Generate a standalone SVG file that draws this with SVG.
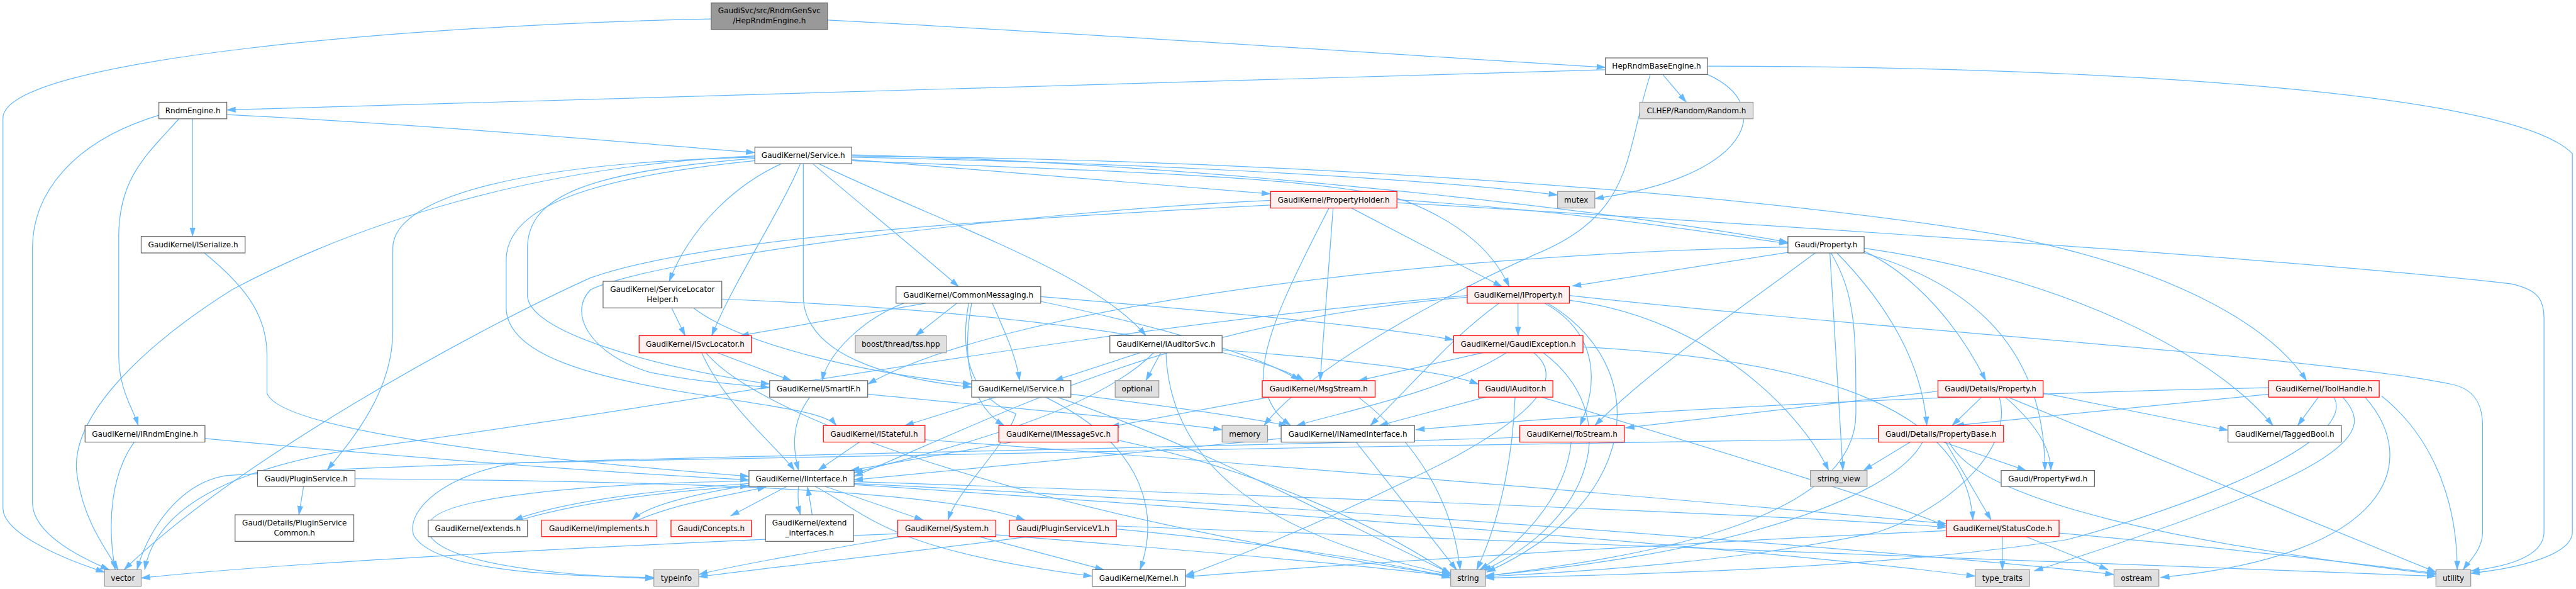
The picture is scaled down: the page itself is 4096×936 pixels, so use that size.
<svg xmlns="http://www.w3.org/2000/svg" width="4096" height="936" viewBox="0 0 4096 936">
<defs>
<marker id="a" markerWidth="16" markerHeight="10" refX="15" refY="5" orient="auto" markerUnits="userSpaceOnUse"><path d="M0,0 L16,5 L0,10 z" fill="#63b8ff"/></marker>
<style>
.e{fill:none;stroke:#63b8ff;stroke-width:1.3;marker-end:url(#a)}
.n rect{fill:#ffffff;stroke:#666666;stroke-width:1.3}
.r rect{fill:#fff0f0;stroke:#ff0000;stroke-width:1.3}
.g rect{fill:#e0e0e0;stroke:#999999;stroke-width:1.3}
.root rect{fill:#999999;stroke:#666666;stroke-width:1.3}
text{font-family:"DejaVu Sans","Liberation Sans",sans-serif;font-size:12.8px;fill:#000000;text-anchor:middle}
</style>
</defs>
<rect width="4096" height="936" fill="#ffffff"/>
<g transform="scale(0.9392)">
<g id="edges">
<path class="e" d="M1401,34 C1900,60 2400,95 2718,114"/>
<path class="e" d="M1204,32 C700,42 5,100 5,200 L5,860 C5,905 120,950 177,968"/>
<path class="e" d="M2718,118 L384,186"/>
<path class="e" d="M2815,126 L2855,173"/>
<path class="e" d="M2891,126 C3010,180 2960,300 2700,336"/>
<path class="e" d="M2891,112 C3500,112 4250,150 4355,260 L4355,900 C4355,940 4260,962 4183,970"/>
<path class="e" d="M2794,126 C2750,260 2770,360 2600,430 C2400,520 2200,640 2140,720"/>
<path class="e" d="M384,194 C800,215 1100,245 1278,258"/>
<path class="e" d="M269,195 C120,240 55,330 55,420 L55,850 C55,905 140,945 185,964"/>
<path class="e" d="M303,201 C250,260 201,300 201,400 L201,600 C201,660 225,690 234,720"/>
<path class="e" d="M326,201 L326,400"/>
<path class="e" d="M346,428 C410,480 452,530 452,600 L452,665 C470,720 800,770 1268,806"/>
<path class="e" d="M347,742 C700,775 1000,798 1268,812"/>
<path class="e" d="M227,748 C190,800 180,880 195,964"/>
<path class="e" d="M1442,262 C2000,275 2700,350 3027,410"/>
<path class="e" d="M1376,277 C1450,340 1560,430 1623,485"/>
<path class="e" d="M1386,277 C1600,380 1850,460 1940,568"/>
<path class="e" d="M1442,272 C1900,290 2250,300 2380,340 C2480,380 2530,430 2555,485"/>
<path class="e" d="M1360,277 L1360,505 C1365,600 1500,640 1645,655"/>
<path class="e" d="M1278,272 C1000,300 857,350 857,440 L857,520 C857,600 1000,640 1200,670 C1330,690 1400,700 1416,720"/>
<path class="e" d="M1355,277 C1320,360 1240,480 1205,568"/>
<path class="e" d="M1323,277 C1250,310 1170,380 1133,476"/>
<path class="e" d="M1442,270 L2151,328"/>
<path class="e" d="M1442,264 C2200,270 3000,330 3400,400 C3700,460 3850,560 3905,644"/>
<path class="e" d="M1442,266 C1900,275 2400,300 2637,330"/>
<path class="e" d="M1278,266 C900,275 665,330 665,420 L665,560 C665,660 600,740 554,795"/>
<path class="e" d="M1278,264 C900,280 600,380 393,490 C250,580 119,700 130,800 C140,880 180,930 200,964"/>
<path class="e" d="M1278,268 C1000,290 893,330 893,420 L893,500 C893,560 1100,620 1303,650"/>
<path class="e" d="M2365,338 C2700,360 2900,395 3027,412"/>
<path class="e" d="M2288,352 L2543,485"/>
<path class="e" d="M2257,352 L2235,644"/>
<path class="e" d="M2151,347 C1700,370 1200,400 1000,470 C800,560 400,780 210,964"/>
<path class="e" d="M2250,352 C2200,450 2130,580 2140,650 C2150,690 2165,705 2185,720"/>
<path class="e" d="M2365,343 C3000,380 3900,440 4250,480 C4300,490 4307,510 4307,540 L4307,900 C4307,940 4250,958 4183,966"/>
<path class="e" d="M2151,339 C1700,360 1100,440 1000,490 C960,530 1000,600 1100,630 C1200,650 1260,650 1303,656"/>
<path class="e" d="M3027,427 L2662,484"/>
<path class="e" d="M3156,425 C3250,470 3320,560 3362,644"/>
<path class="e" d="M3156,428 C3300,470 3462,560 3462,796"/>
<path class="e" d="M3110,428 C3200,520 3255,620 3262,720"/>
<path class="e" d="M3156,420 C3500,470 3750,600 3848,720"/>
<path class="e" d="M3073,428 C2950,520 2800,620 2700,720"/>
<path class="e" d="M3098,428 L3120,796"/>
<path class="e" d="M3100,428 C3142,500 3142,560 3142,700 C3142,900 2700,950 2515,975"/>
<path class="e" d="M3027,418 C2400,430 1700,520 1469,650"/>
<path class="e" d="M1137,521 L1160,568"/>
<path class="e" d="M1222,506 C1700,525 2100,580 2208,644"/>
<path class="e" d="M1174,521 C1250,580 1450,630 1645,650"/>
<path class="e" d="M1567,513 L1253,568"/>
<path class="e" d="M1620,513 L1550,568"/>
<path class="e" d="M1530,513 C1460,540 1400,600 1392,644"/>
<path class="e" d="M1680,513 C1700,560 1720,600 1726,644"/>
<path class="e" d="M1645,513 C1625,620 1650,690 1700,720"/>
<path class="e" d="M1640,513 C1620,620 1660,680 1720,700 C1700,760 1620,830 1605,880"/>
<path class="e" d="M1762,502 C2100,530 2350,555 2461,575"/>
<path class="e" d="M1762,510 C2000,560 2150,610 2200,644"/>
<path class="e" d="M2570,513 L2570,568"/>
<path class="e" d="M2538,513 C2460,570 2420,620 2320,720"/>
<path class="e" d="M2615,513 C2700,560 2710,640 2675,720"/>
<path class="e" d="M2620,513 C2800,620 2780,850 2517,968"/>
<path class="e" d="M2657,508 C2900,540 3050,700 3096,796"/>
<path class="e" d="M2657,500 C3200,560 3900,600 4150,650 C4200,660 4203,700 4203,720 L4203,900 C4203,930 4180,950 4170,964"/>
<path class="e" d="M2484,503 C2000,540 1700,700 1446,806"/>
<path class="e" d="M2484,500 C1800,560 1200,680 600,760 C350,800 260,880 245,964"/>
<path class="e" d="M1188,597 C1230,690 1320,760 1345,796"/>
<path class="e" d="M1215,597 L1340,644"/>
<path class="e" d="M1195,597 C1300,720 1800,880 2456,974"/>
<path class="e" d="M1930,597 L1785,644"/>
<path class="e" d="M1965,597 L1940,644"/>
<path class="e" d="M2069,592 C2300,610 2450,630 2503,650"/>
<path class="e" d="M1974,597 C1980,760 2100,900 2456,972"/>
<path class="e" d="M1953,597 C1850,700 1600,760 1446,800"/>
<path class="e" d="M2510,597 L2300,644"/>
<path class="e" d="M2550,597 C2450,660 2300,690 2195,720"/>
<path class="e" d="M2597,597 C2650,640 2600,700 2450,780 C2250,880 2100,940 2007,974"/>
<path class="e" d="M2613,597 C2750,700 2700,880 2510,966"/>
<path class="e" d="M2680,587 C3100,610 3330,700 3340,880"/>
<path class="e" d="M1371,672 C1335,720 1345,770 1352,796"/>
<path class="e" d="M1469,667 C1700,690 1900,705 2069,727"/>
<path class="e" d="M1686,672 L1532,720"/>
<path class="e" d="M1813,667 C2000,690 2100,705 2180,720"/>
<path class="e" d="M1770,672 C1950,760 1960,880 1930,964"/>
<path class="e" d="M1790,672 C2050,760 2300,900 2456,970"/>
<path class="e" d="M2149,672 L1880,722"/>
<path class="e" d="M2300,672 C2400,750 2460,850 2472,964"/>
<path class="e" d="M2515,672 L2335,720"/>
<path class="e" d="M2565,672 C2560,800 2530,900 2500,964"/>
<path class="e" d="M2610,672 C2900,760 3200,850 3295,890"/>
<path class="e" d="M3355,672 L3305,720"/>
<path class="e" d="M3395,672 C3450,720 3472,760 3472,796"/>
<path class="e" d="M3459,665 L3772,728"/>
<path class="e" d="M3402,673 L4124,968"/>
<path class="e" d="M3281,662 L2752,724"/>
<path class="e" d="M3385,672 C3410,760 3300,860 3180,900 C2900,960 2600,970 2515,976"/>
<path class="e" d="M3925,672 L3890,720"/>
<path class="e" d="M3841,656 C3200,670 2700,700 2397,727"/>
<path class="e" d="M3841,667 L3310,720"/>
<path class="e" d="M3952,673 C3990,750 3700,860 3500,913 C3200,960 2800,972 2515,978"/>
<path class="e" d="M3966,672 C4020,730 4000,790 3444,966"/>
<path class="e" d="M4004,672 C4100,780 4050,940 3658,977"/>
<path class="e" d="M4032,670 C4120,740 4160,850 4160,964"/>
<path class="e" d="M1455,748 L1385,796"/>
<path class="e" d="M1566,744 C2200,790 2900,850 3295,886"/>
<path class="e" d="M1714,748 L1440,796"/>
<path class="e" d="M1893,745 C2150,800 2350,900 2456,972"/>
<path class="e" d="M2169,742 C1900,770 1650,790 1446,812"/>
<path class="e" d="M2296,748 L2466,964"/>
<path class="e" d="M2660,748 C2650,850 2560,930 2505,964"/>
<path class="e" d="M2573,740 C2000,760 800,775 380,805 C300,820 250,900 232,964"/>
<path class="e" d="M3290,748 L3430,796"/>
<path class="e" d="M3294,748 L3371,880"/>
<path class="e" d="M3234,748 L3155,796"/>
<path class="e" d="M3255,748 C3200,850 2900,940 2515,974"/>
<path class="e" d="M3300,748 C3350,850 3700,920 4124,972"/>
<path class="e" d="M3180,742 C2500,755 1200,770 877,783 C760,800 687,860 700,905 C730,960 900,975 1107,977"/>
<path class="e" d="M514,823 L506,871"/>
<path class="e" d="M601,810 C1200,815 1600,830 1735,880"/>
<path class="e" d="M1332,823 L1237,873"/>
<path class="e" d="M1352,823 C1350,840 1352,860 1355,871"/>
<path class="e" d="M1268,818 C1100,830 950,850 870,880"/>
<path class="e" d="M1268,821 C1150,840 1090,860 1070,880"/>
<path class="e" d="M1397,823 L1563,880"/>
<path class="e" d="M1380,823 C1470,870 1500,930 1849,975"/>
<path class="e" d="M1446,815 C2200,840 3000,870 3295,892"/>
<path class="e" d="M1446,818 C2300,860 3300,940 3579,972"/>
<path class="e" d="M1446,820 C2200,870 3000,930 3344,975"/>
<path class="e" d="M1268,814 C1000,818 760,840 730,880 C700,925 800,968 1107,979"/>
<path class="e" d="M880,880 C1000,845 1150,830 1268,822"/>
<path class="e" d="M1080,880 C1150,850 1250,835 1297,824"/>
<path class="e" d="M1375,871 C1372,850 1370,840 1367,824"/>
<path class="e" d="M1658,908 L1869,964"/>
<path class="e" d="M1525,908 C1400,930 1250,955 1183,972"/>
<path class="e" d="M1520,903 C1100,920 500,950 239,978"/>
<path class="e" d="M1686,905 C2000,930 2300,955 2456,975"/>
<path class="e" d="M1740,908 C1500,940 1300,960 1183,976"/>
<path class="e" d="M1890,895 C2150,920 2350,950 2456,978"/>
<path class="e" d="M1890,890 C2800,920 3600,950 4124,975"/>
<path class="e" d="M3295,898 C2800,920 2200,960 2007,976"/>
<path class="e" d="M3390,908 L3390,964"/>
<path class="e" d="M3430,908 L3569,964"/>
<path class="e" d="M3486,902 C3800,930 4000,955 4124,970"/>
</g>
<g id="n_root" class="root"><rect x="1204" y="5" width="197" height="45"/><text x="1302.5" y="22.5">GaudiSvc/src/RndmGenSvc</text><text x="1302.5" y="39.5">/HepRndmEngine.h</text></g>
<g id="n_hepbase" class="n"><rect x="2718" y="98" width="173" height="28"/><text x="2804.5" y="116.5">HepRndmBaseEngine.h</text></g>
<g id="n_rndmengine" class="n"><rect x="269" y="173" width="115" height="28"/><text x="326.5" y="191.5">RndmEngine.h</text></g>
<g id="n_clhep" class="g"><rect x="2776" y="173" width="192" height="28"/><text x="2872" y="191.5">CLHEP/Random/Random.h</text></g>
<g id="n_service" class="n"><rect x="1278" y="249" width="164" height="28"/><text x="1360" y="267.5">GaudiKernel/Service.h</text></g>
<g id="n_mutex" class="g"><rect x="2637" y="324" width="63" height="28"/><text x="2668.5" y="342.5">mutex</text></g>
<g id="n_propholder" class="r"><rect x="2151" y="324" width="214" height="28"/><text x="2258" y="342.5">GaudiKernel/PropertyHolder.h</text></g>
<g id="n_iserialize" class="n"><rect x="239" y="400" width="176" height="28"/><text x="327" y="418.5">GaudiKernel/ISerialize.h</text></g>
<g id="n_property" class="n"><rect x="3027" y="400" width="129" height="28"/><text x="3091.5" y="418.5">Gaudi/Property.h</text></g>
<g id="n_slh" class="n"><rect x="1021" y="476" width="201" height="45"/><text x="1121.5" y="494">GaudiKernel/ServiceLocator</text><text x="1121.5" y="511">Helper.h</text></g>
<g id="n_commonmsg" class="n"><rect x="1517" y="485" width="245" height="28"/><text x="1639.5" y="503.5">GaudiKernel/CommonMessaging.h</text></g>
<g id="n_iproperty" class="r"><rect x="2484" y="485" width="173" height="28"/><text x="2570.5" y="503.5">GaudiKernel/IProperty.h</text></g>
<g id="n_isvclocator" class="r"><rect x="1082" y="568" width="190" height="29"/><text x="1177" y="587">GaudiKernel/ISvcLocator.h</text></g>
<g id="n_boost" class="g"><rect x="1448" y="568" width="154" height="29"/><text x="1525" y="587">boost/thread/tss.hpp</text></g>
<g id="n_iauditorsvc" class="n"><rect x="1879" y="568" width="190" height="29"/><text x="1974" y="587">GaudiKernel/IAuditorSvc.h</text></g>
<g id="n_gaudiexc" class="r"><rect x="2461" y="568" width="219" height="29"/><text x="2570.5" y="587">GaudiKernel/GaudiException.h</text></g>
<g id="n_smartif" class="n"><rect x="1303" y="644" width="166" height="28"/><text x="1386" y="662.5">GaudiKernel/SmartIF.h</text></g>
<g id="n_iservice" class="n"><rect x="1645" y="644" width="168" height="28"/><text x="1729" y="662.5">GaudiKernel/IService.h</text></g>
<g id="n_optional" class="g"><rect x="1888" y="644" width="74" height="28"/><text x="1925" y="662.5">optional</text></g>
<g id="n_msgstream" class="r"><rect x="2137" y="644" width="191" height="28"/><text x="2232.5" y="662.5">GaudiKernel/MsgStream.h</text></g>
<g id="n_iauditor" class="r"><rect x="2503" y="644" width="126" height="28"/><text x="2566" y="662.5">Gaudi/IAuditor.h</text></g>
<g id="n_detprop" class="r"><rect x="3281" y="644" width="178" height="28"/><text x="3370" y="662.5">Gaudi/Details/Property.h</text></g>
<g id="n_toolhandle" class="r"><rect x="3841" y="644" width="187" height="28"/><text x="3934.5" y="662.5">GaudiKernel/ToolHandle.h</text></g>
<g id="n_irndmengine" class="n"><rect x="144" y="720" width="203" height="28"/><text x="245.5" y="738.5">GaudiKernel/IRndmEngine.h</text></g>
<g id="n_istateful" class="r"><rect x="1394" y="720" width="172" height="28"/><text x="1480" y="738.5">GaudiKernel/IStateful.h</text></g>
<g id="n_imessagesvc" class="r"><rect x="1691" y="720" width="202" height="28"/><text x="1792" y="738.5">GaudiKernel/IMessageSvc.h</text></g>
<g id="n_memory" class="g"><rect x="2069" y="720" width="77" height="28"/><text x="2107.5" y="738.5">memory</text></g>
<g id="n_inamed" class="n"><rect x="2169" y="720" width="226" height="28"/><text x="2282" y="738.5">GaudiKernel/INamedInterface.h</text></g>
<g id="n_tostream" class="r"><rect x="2573" y="720" width="177" height="28"/><text x="2661.5" y="738.5">GaudiKernel/ToStream.h</text></g>
<g id="n_propbase" class="r"><rect x="3180" y="720" width="212" height="28"/><text x="3286" y="738.5">Gaudi/Details/PropertyBase.h</text></g>
<g id="n_taggedbool" class="n"><rect x="3772" y="720" width="192" height="28"/><text x="3868" y="738.5">GaudiKernel/TaggedBool.h</text></g>
<g id="n_pluginsvc" class="n"><rect x="436" y="796" width="165" height="27"/><text x="518.5" y="814">Gaudi/PluginService.h</text></g>
<g id="n_iinterface" class="n"><rect x="1268" y="796" width="178" height="27"/><text x="1357" y="814">GaudiKernel/IInterface.h</text></g>
<g id="n_stringview" class="g"><rect x="3065" y="796" width="96" height="27"/><text x="3113" y="814">string_view</text></g>
<g id="n_propfwd" class="n"><rect x="3388" y="796" width="158" height="27"/><text x="3467" y="814">Gaudi/PropertyFwd.h</text></g>
<g id="n_pscommon" class="n"><rect x="398" y="871" width="201" height="45"/><text x="498.5" y="889">Gaudi/Details/PluginService</text><text x="498.5" y="906">Common.h</text></g>
<g id="n_extends" class="n"><rect x="725" y="880" width="168" height="28"/><text x="809" y="898.5">GaudiKernel/extends.h</text></g>
<g id="n_implements" class="r"><rect x="917" y="880" width="195" height="28"/><text x="1014.5" y="898.5">GaudiKernel/implements.h</text></g>
<g id="n_concepts" class="r"><rect x="1136" y="880" width="136" height="28"/><text x="1204" y="898.5">Gaudi/Concepts.h</text></g>
<g id="n_extendif" class="n"><rect x="1296" y="871" width="149" height="45"/><text x="1370.5" y="889">GaudiKernel/extend</text><text x="1370.5" y="906">_interfaces.h</text></g>
<g id="n_system" class="r"><rect x="1520" y="880" width="166" height="28"/><text x="1603" y="898.5">GaudiKernel/System.h</text></g>
<g id="n_psv1" class="r"><rect x="1709" y="880" width="181" height="28"/><text x="1799.5" y="898.5">Gaudi/PluginServiceV1.h</text></g>
<g id="n_statuscode" class="r"><rect x="3295" y="880" width="191" height="28"/><text x="3390.5" y="898.5">GaudiKernel/StatusCode.h</text></g>
<g id="n_vector" class="g"><rect x="177" y="964" width="62" height="28"/><text x="208" y="982.5">vector</text></g>
<g id="n_typeinfo" class="g"><rect x="1107" y="964" width="76" height="28"/><text x="1145" y="982.5">typeinfo</text></g>
<g id="n_kernel" class="n"><rect x="1849" y="964" width="158" height="28"/><text x="1928" y="982.5">GaudiKernel/Kernel.h</text></g>
<g id="n_string" class="g"><rect x="2456" y="964" width="59" height="28"/><text x="2485.5" y="982.5">string</text></g>
<g id="n_typetraits" class="g"><rect x="3344" y="964" width="92" height="28"/><text x="3390" y="982.5">type_traits</text></g>
<g id="n_ostream" class="g"><rect x="3579" y="964" width="76" height="28"/><text x="3617" y="982.5">ostream</text></g>
<g id="n_utility" class="g"><rect x="4124" y="964" width="59" height="28"/><text x="4153.5" y="982.5">utility</text></g>
</g>
</svg>
